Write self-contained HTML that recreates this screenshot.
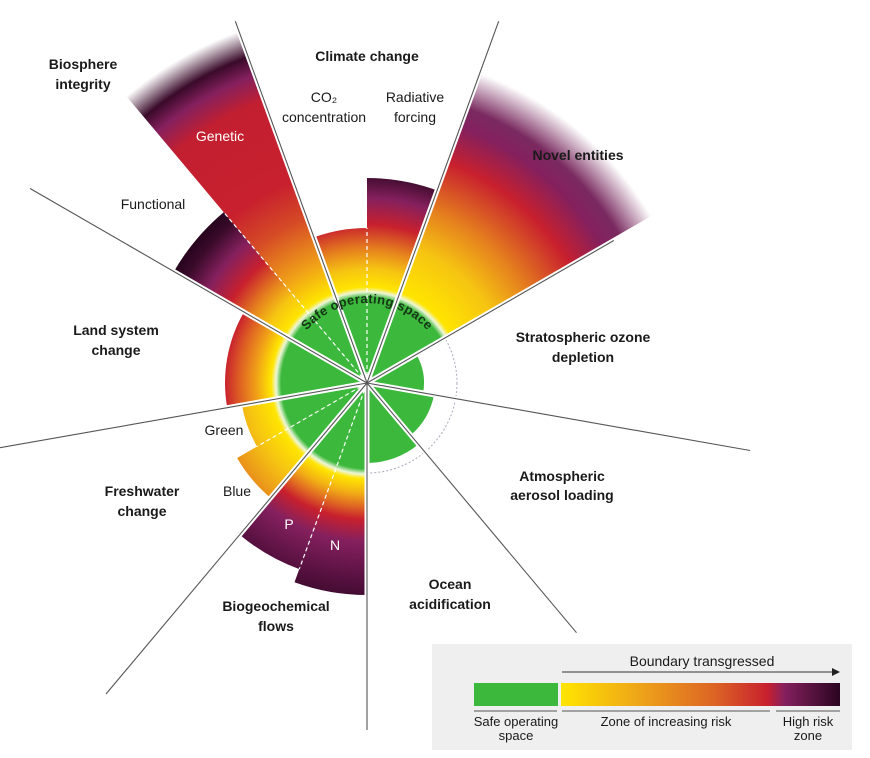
<!DOCTYPE html>
<html><head><meta charset="utf-8">
<style>
html,body{margin:0;padding:0;background:#fff;}
svg{display:block;font-family:"Liberation Sans",sans-serif;}
.b{font-weight:bold;font-size:14px;fill:#1a1a1a;}
.n{font-size:14px;fill:#1a1a1a;}
.w{font-size:14px;fill:#fff;}
</style></head>
<body>
<svg id="s" width="870" height="758" viewBox="0 0 870 758" xmlns="http://www.w3.org/2000/svg">
<defs>
<radialGradient id="gStd" gradientUnits="userSpaceOnUse" cx="367" cy="383" r="220">
<stop offset="0" stop-color="#3cb93c"/><stop offset="0.39" stop-color="#3cb93c"/>
<stop offset="0.414" stop-color="#eef6d8"/><stop offset="0.436" stop-color="#ffe500"/>
<stop offset="0.52" stop-color="#f6c412"/><stop offset="0.61" stop-color="#e5801e"/>
<stop offset="0.72" stop-color="#c8202e"/><stop offset="0.84" stop-color="#85205e"/>
<stop offset="0.95" stop-color="#3a0a2a"/><stop offset="1" stop-color="#2a0520"/>
</radialGradient>
<radialGradient id="gBio" gradientUnits="userSpaceOnUse" cx="367" cy="383" r="220">
<stop offset="0" stop-color="#3cb93c"/><stop offset="0.39" stop-color="#3cb93c"/>
<stop offset="0.414" stop-color="#eef6d8"/><stop offset="0.436" stop-color="#ffe500"/>
<stop offset="0.5" stop-color="#f3b015"/><stop offset="0.56" stop-color="#e06a22"/>
<stop offset="0.62" stop-color="#c8202e"/><stop offset="0.72" stop-color="#85205e"/>
<stop offset="0.9" stop-color="#55103f"/><stop offset="1" stop-color="#3a0a2a"/>
</radialGradient>
<radialGradient id="gLand" gradientUnits="userSpaceOnUse" cx="367" cy="383" r="150">
<stop offset="0" stop-color="#3cb93c"/><stop offset="0.573" stop-color="#3cb93c"/>
<stop offset="0.607" stop-color="#eef6d8"/><stop offset="0.64" stop-color="#ffe500"/>
<stop offset="0.74" stop-color="#f0a018"/><stop offset="0.86" stop-color="#dc5a24"/>
<stop offset="0.95" stop-color="#c8202e"/><stop offset="1" stop-color="#b81c32"/>
</radialGradient>
<radialGradient id="gFw" gradientUnits="userSpaceOnUse" cx="367" cy="383" r="160">
<stop offset="0" stop-color="#3cb93c"/><stop offset="0.537" stop-color="#3cb93c"/>
<stop offset="0.57" stop-color="#eef6d8"/><stop offset="0.6" stop-color="#ffe500"/>
<stop offset="0.75" stop-color="#f6c412"/><stop offset="1" stop-color="#e5801e"/>
</radialGradient>
<radialGradient id="gGen" gradientUnits="userSpaceOnUse" cx="367" cy="383" r="390">
<stop offset="0" stop-color="#3cb93c"/><stop offset="0.22" stop-color="#3cb93c"/>
<stop offset="0.233" stop-color="#eef6d8"/><stop offset="0.246" stop-color="#ffe500"/>
<stop offset="0.33" stop-color="#f0a018"/><stop offset="0.45" stop-color="#d54a26"/>
<stop offset="0.55" stop-color="#c8202e"/><stop offset="0.77" stop-color="#c21f30"/>
<stop offset="0.84" stop-color="#85205e"/><stop offset="0.89" stop-color="#3a0a2a"/>
<stop offset="0.96" stop-color="#ffffff"/><stop offset="1" stop-color="#ffffff"/>
</radialGradient>
<radialGradient id="gNov" gradientUnits="userSpaceOnUse" cx="367" cy="383" r="340">
<stop offset="0" stop-color="#3cb93c"/><stop offset="0.253" stop-color="#3cb93c"/>
<stop offset="0.268" stop-color="#eef6d8"/><stop offset="0.283" stop-color="#ffe500"/>
<stop offset="0.42" stop-color="#f6c412"/><stop offset="0.54" stop-color="#e5801e"/>
<stop offset="0.69" stop-color="#c8202e"/><stop offset="0.8" stop-color="#85205e"/>
<stop offset="0.86" stop-color="#7a2a60"/><stop offset="0.97" stop-color="#ffffff"/>
<stop offset="1" stop-color="#ffffff"/>
</radialGradient>
<linearGradient id="lg" x1="0" x2="1" y1="0" y2="0">
<stop offset="0" stop-color="#ffe500"/><stop offset="0.3" stop-color="#eda01a"/>
<stop offset="0.55" stop-color="#dc6424"/><stop offset="0.74" stop-color="#c8202e"/>
<stop offset="0.8" stop-color="#85205e"/><stop offset="1" stop-color="#2a0520"/>
</linearGradient>
<path id="arc" d="M 299.2 425.4 A 80 80 0 0 1 299.2 340.6 A 80 80 0 0 1 434.8 340.6 A 80 80 0 0 1 434.8 425.4"/>
</defs>
<g id="g"></g>
<text class="b" x="367" y="61" text-anchor="middle">Climate change</text>
<text class="n" x="324" y="102" text-anchor="middle">CO₂</text>
<text class="n" x="324" y="122" text-anchor="middle">concentration</text>
<text class="n" x="415" y="102" text-anchor="middle">Radiative</text>
<text class="n" x="415" y="122" text-anchor="middle">forcing</text>
<text class="b" x="83" y="69" text-anchor="middle">Biosphere</text>
<text class="b" x="83" y="89" text-anchor="middle">integrity</text>
<text class="w" x="220" y="141" text-anchor="middle">Genetic</text>
<text class="n" x="153" y="209" text-anchor="middle">Functional</text>
<text class="b" x="578" y="160" text-anchor="middle">Novel entities</text>
<text class="b" x="583" y="342" text-anchor="middle">Stratospheric ozone</text>
<text class="b" x="583" y="362" text-anchor="middle">depletion</text>
<text class="b" x="116" y="335" text-anchor="middle">Land system</text>
<text class="b" x="116" y="355" text-anchor="middle">change</text>
<text class="n" x="224" y="435" text-anchor="middle">Green</text>
<text class="n" x="237" y="496" text-anchor="middle">Blue</text>
<text class="b" x="142" y="496" text-anchor="middle">Freshwater</text>
<text class="b" x="142" y="516" text-anchor="middle">change</text>
<text class="b" x="562" y="481" text-anchor="middle">Atmospheric</text>
<text class="b" x="562" y="500" text-anchor="middle">aerosol loading</text>
<text class="w" x="289" y="529" text-anchor="middle">P</text>
<text class="w" x="335" y="550" text-anchor="middle">N</text>
<text class="b" x="450" y="589" text-anchor="middle">Ocean</text>
<text class="b" x="450" y="609" text-anchor="middle">acidification</text>
<text class="b" x="276" y="611" text-anchor="middle">Biogeochemical</text>
<text class="b" x="276" y="631" text-anchor="middle">flows</text>

<rect x="432" y="644" width="420" height="106" fill="#efefef"/>
<text class="n" x="702" y="666" text-anchor="middle" font-size="13">Boundary transgressed</text>
<line x1="562" y1="672" x2="832" y2="672" stroke="#333" stroke-width="1"/>
<polygon points="832,668 840,672 832,676" fill="#222"/>
<rect x="474" y="683" width="84" height="23" fill="#3cb93c"/>
<rect x="561" y="683" width="279" height="23" fill="url(#lg)"/>
<g stroke="#555" stroke-width="1">
<line x1="474" y1="711" x2="557" y2="711"/><line x1="562" y1="711" x2="770" y2="711"/><line x1="776" y1="711" x2="840" y2="711"/></g>
<g font-size="13" fill="#1a1a1a" text-anchor="middle">
<text x="516" y="726">Safe operating</text><text x="516" y="740">space</text>
<text x="666" y="726">Zone of increasing risk</text>
<text x="808" y="726">High risk</text><text x="808" y="740">zone</text></g>
</svg>
<script>
var cx=367,cy=383,NS="http://www.w3.org/2000/svg",g=document.getElementById("g");
function P(a,r){var t=a*Math.PI/180;return [(cx+r*Math.cos(t)).toFixed(1),(cy-r*Math.sin(t)).toFixed(1)];}
function el(n,at){var e=document.createElementNS(NS,n);for(var k in at)e.setAttribute(k,at[k]);g.appendChild(e);return e;}
function sec(a1,a2,r,fill){var p1=P(a2,r),p2=P(a1,r);
 el("path",{d:"M"+cx+" "+cy+" L"+p1[0]+" "+p1[1]+" A"+r+" "+r+" 0 0 1 "+p2[0]+" "+p2[1]+" Z",fill:fill});}
el("circle",{cx:cx,cy:cy,r:90,fill:"none",stroke:"#aab",
 "stroke-width":1,"stroke-dasharray":"2 2"});
sec(90,110,155,"url(#gStd)");
sec(70,90,205,"url(#gStd)");
sec(30,70,335,"url(#gNov)");
sec(-10,30,57,"#3cb93c");
sec(-50,-10,68,"#3cb93c");
sec(-90,-50,80,"#3cb93c");
sec(-110,-90,212,"url(#gBio)");
sec(-130,-110,198,"url(#gBio)");
sec(-150,-130,150,"url(#gFw)");
sec(-170,-150,127,"url(#gFw)");
sec(150,190,142,"url(#gLand)");
sec(130,150,223,"url(#gStd)");
sec(110,130,390,"url(#gGen)");
[[90,155],[-110,198],[-150,127],[130,223]].forEach(function(d){var p=P(d[0],d[1]);
 el("line",{x1:cx,y1:cy,x2:p[0],y2:p[1],stroke:"#fff","stroke-width":1.2,"stroke-dasharray":"4 3"});});
var L=[[110,385],[70,385],[30,285],[-10,389],[-50,326],[-90,347],[-130,406],[-170,380],[150,389]];
L.forEach(function(d){var p=P(d[0],400);
 el("line",{x1:cx,y1:cy,x2:p[0],y2:p[1],stroke:"#fff","stroke-width":5});});
L.forEach(function(d){var p=P(d[0],d[1]);
 el("line",{x1:cx,y1:cy,x2:p[0],y2:p[1],stroke:"#555","stroke-width":1.1});});
var t=el("text",{"font-size":"13","font-weight":"bold",fill:"#163516","letter-spacing":"0.3"});
var tp=document.createElementNS(NS,"textPath");tp.setAttribute("href","#arc");tp.setAttribute("startOffset","50%");tp.setAttribute("text-anchor","middle");
tp.textContent="Safe operating space";t.appendChild(tp);
</script>
</body></html>
